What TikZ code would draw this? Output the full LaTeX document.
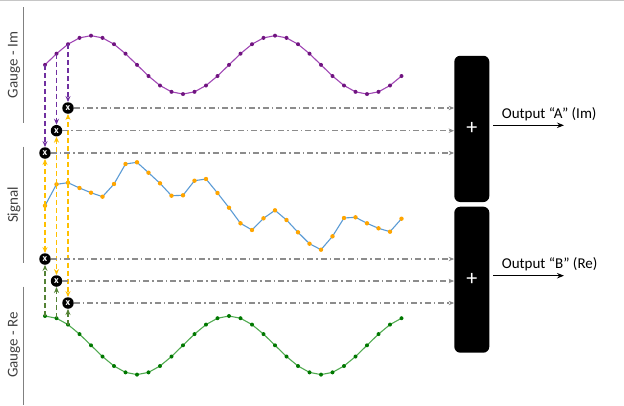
\documentclass[tikz,border=0pt]{standalone}
\usepackage{fontspec}
\setmainfont{Carlito}
\usetikzlibrary{arrows.meta}
\definecolor{pline}{RGB}{160,70,180}
\definecolor{pdot}{RGB}{112,20,128}
\definecolor{pdash}{RGB}{112,48,160}
\definecolor{gline}{RGB}{80,170,80}
\definecolor{gdot}{RGB}{0,120,0}
\definecolor{gdash}{RGB}{84,130,53}
\definecolor{odash}{RGB}{255,192,0}
\definecolor{odot}{RGB}{255,165,0}
\definecolor{bline}{RGB}{91,155,213}
\definecolor{dgray}{RGB}{128,128,128}
\definecolor{lgray}{RGB}{140,140,140}
\definecolor{lblgray}{RGB}{64,64,64}
\begin{document}
\begin{tikzpicture}[x=1pt,y=-1pt,
  xnode/.style={circle, fill=black, inner sep=0pt, minimum size=11.5pt, text=white, font=\bfseries\fontsize{10}{10}\selectfont},
  tip/.style={-{Stealth[length=6pt,width=5pt]}},
  pdashed/.style={tip, pdash, dash pattern=on 5pt off 3pt, line width=1.6pt},
  odashed/.style={tip, odash, dash pattern=on 5pt off 3pt, line width=1.6pt},
  gdashed/.style={tip, gdash, dash pattern=on 5pt off 3pt, line width=1.6pt},
  graydash/.style={-{Stealth[length=5.5pt,width=4.5pt]}, lgray, line width=1.2pt, dash pattern=on 6pt off 3pt on 1.5pt off 3pt},
  sumbox/.style={fill=black, rounded corners=6pt, minimum width=35pt, text=white, font=\fontsize{22}{22}\selectfont, inner sep=0pt},
  lbl/.style={rotate=90, text=lblgray, font=\fontsize{15}{16}\selectfont},
  sepline/.style={dgray, line width=1pt},
  outtext/.style={anchor=south west, inner sep=0pt, font=\fontsize{15}{16}\selectfont},
  outarrow/.style={-{Stealth[length=7pt,width=5.5pt]}, black, line width=1.2pt}
]
\useasboundingbox (0,0) rectangle (624,405);
\draw[gray!45, line width=1.3pt] (0,0.8) -- (624,0.8);

% side labels and separator lines
\draw[sepline] (23,7) -- (23,123);
\draw[sepline] (23,146.7) -- (23,263.3);
\draw[sepline] (23,286.7) -- (23,405);
\node[lbl] (lblIm) at (14,65) {Gauge - Im};
\node[lbl] (lblSig) at (14,205) {Signal};
\node[lbl] (lblRe) at (14,345) {Gauge - Re};

% purple gauge (Im)
\foreach \k in {0,...,31}
  \coordinate (p\k) at ({45+11.5*\k},{64.85-29.2*sin(22.5*\k)});
\draw[pline, line width=1.1pt] (p0) \foreach \k in {1,...,31}{ -- (p\k) };
\foreach \k in {0,...,31} \fill[pdot] (p\k) circle[radius=2pt];

% green gauge (Re)
\foreach \k in {0,...,31}
  \coordinate (g\k) at ({45+11.5*\k},{345.3-29.3*cos(22.5*\k)});
\draw[gline, line width=1.1pt] (g0) \foreach \k in {1,...,31}{ -- (g\k) };
\foreach \k in {0,...,31} \fill[gdot] (g\k) circle[radius=2pt];

% signal
\foreach \y [count=\k from 0] in {205.7,184.3,182.7,188,192.7,196.7,184,164,162.3,172.7,183.3,195.7,195.3,180.7,179,193,207.7,223.3,230,218.3,210.3,220,232.3,243.7,249.7,236.3,218,217.3,223.3,228.3,231.7,218.7}
  \coordinate (s\k) at ({45+11.5*\k},\y);
\draw[bline, line width=1.1pt] (s0) \foreach \k in {1,...,31}{ -- (s\k) };
\foreach \k in {0,...,31} \fill[odot] (s\k) circle[radius=2.2pt];

% multiplier nodes
\node[xnode] (xa0) at (68,108) {x};
\node[xnode] (xa1) at (56.5,130.7) {x};
\node[xnode] (xa2) at (45,153) {x};
\node[xnode] (xb0) at (45,259) {x};
\node[xnode] (xb1) at (56.5,281) {x};
\node[xnode] (xb2) at (68,303) {x};

% sum boxes
\node[sumbox, minimum height=146.3pt] (boxA) at (471.8,128.9) {+};
\node[sumbox, minimum height=146pt] (boxB) at (471.8,279.7) {+};

% dashed feeds
\draw[pdashed] (p0) -- (xa2);
\draw[pdashed] (p1) -- (xa1);
\draw[pdashed] (p2) -- (xa0);
\draw[odashed] (s0) -- (xa2);
\draw[odashed] (s1) -- (xa1);
\draw[odashed] (s2) -- (xa0);
\draw[odashed] (s0) -- (xb0);
\draw[odashed] (s1) -- (xb1);
\draw[odashed] (s2) -- (xb2);
\draw[gdashed] (g0) -- (xb0);
\draw[gdashed] (g1) -- (xb1);
\draw[gdashed] (g2) -- (xb2);

% products to sums
\foreach \n in {xa0,xa1,xa2} \draw[graydash] (\n) -- (\n -| boxA.west);
\foreach \n in {xb0,xb1,xb2} \draw[graydash] (\n) -- (\n -| boxB.west);

% outputs
\coordinate (outA) at (564,125.3);
\coordinate (outB) at (564,275.7);
\draw[outarrow] ([xshift=3.5pt]boxA.east |- outA) -- (outA);
\draw[outarrow] ([xshift=3.5pt]boxB.east |- outB) -- (outB);
\node[outtext] (txtA) at (501.7,121) {Output “A” (Im)};
\node[outtext] (txtB) at (501.7,271.5) {Output “B” (Re)};
\end{tikzpicture}
\end{document}
